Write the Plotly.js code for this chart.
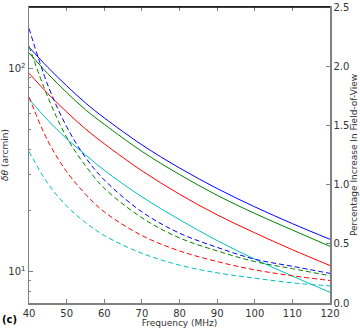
<!DOCTYPE html>
<html>
<head>
<meta charset="utf-8">
<script src="https://cdn.plot.ly/plotly-3.0.1.min.js"></script>
<style>
  html, body { margin: 0; padding: 0; background: #fff; }
  #chart { width: 360px; height: 332px; }
</style>
</head>
<body>
<div id="chart"></div>
<script>
// frequency samples (MHz)
var freq = [40, 45, 50, 55, 60, 70, 80, 90, 100, 110, 120];

// delta theta (arcmin), left log axis - solid lines
var blueSolid  = [127, 101, 82, 67.5, 57, 42, 32.3, 25.6, 20.8, 17.2, 14.4];
var greenSolid = [119, 94, 76, 62.5, 53, 39, 30, 23.7, 19.3, 16, 13.3];
var redSolid   = [94.5, 75, 61, 50.3, 42.5, 31.3, 24, 19, 15.5, 12.8, 10.7];
var cyanSolid  = [70.5, 55.5, 45, 37.5, 31.5, 23.3, 18, 14.2, 11.5, 9.5, 7.9];

// percentage increase in field-of-view, right axis - dashed lines
var blueDash  = [2.32, 1.84, 1.49, 1.23, 1.04, 0.77, 0.59, 0.47, 0.37, 0.31, 0.25];
var greenDash = [2.17, 1.74, 1.40, 1.16, 0.97, 0.72, 0.55, 0.44, 0.35, 0.29, 0.23];
var redDash   = [1.74, 1.37, 1.11, 0.92, 0.77, 0.57, 0.44, 0.35, 0.28, 0.23, 0.19];
var cyanDash  = [1.28, 1.01, 0.82, 0.68, 0.57, 0.42, 0.32, 0.255, 0.21, 0.17, 0.145];

var colors = ['#0000ff', '#008000', '#ff0000', '#00bfbf'];
var solids = [blueSolid, greenSolid, redSolid, cyanSolid];
var dashes = [blueDash, greenDash, redDash, cyanDash];

var data = [];
solids.forEach(function (s, i) {
    data.push({
        x: freq, y: s, type: 'scatter', mode: 'lines', yaxis: 'y',
        line: { color: colors[i], width: 1, shape: 'spline' },
        showlegend: false, hoverinfo: 'skip'
    });
});
dashes.forEach(function (s, i) {
    data.push({
        x: freq, y: s, type: 'scatter', mode: 'lines', yaxis: 'y2',
        line: { color: colors[i], width: 1, dash: '5px,3px', shape: 'spline' },
        showlegend: false, hoverinfo: 'skip'
    });
});

var tickFont = { family: 'DejaVu Sans', size: 10, color: '#333' };
var axisGrey = '#808080';

var layout = {
    width: 360,
    height: 332,
    margin: { l: 29, r: 30, t: 7, b: 28.5 },
    paper_bgcolor: '#fff',
    plot_bgcolor: '#fff',
    font: tickFont,
    xaxis: {
        range: [40, 120],
        tickvals: [40, 50, 60, 70, 80, 90, 100, 110, 120],
        ticks: 'inside', ticklen: 4, tickcolor: axisGrey,
        showline: true, linecolor: axisGrey, linewidth: 1.5, mirror: 'ticks',
        showgrid: false, zeroline: false,
        tickfont: tickFont,
        title: { text: 'Frequency (MHz)', font: { family: 'DejaVu Sans', size: 9, color: '#333' }, standoff: 2 }
    },
    yaxis: {
        type: 'log',
        range: [Math.log10(7), Math.log10(200)],
        tickvals: [10, 100],
        ticktext: ['10<sup>1</sup>', '10<sup>2</sup>'],
        ticks: 'inside', ticklen: 4, tickcolor: axisGrey,
        minor: { tickvals: [7, 8, 9, 20, 30, 40, 50, 60, 70, 80, 90, 200], ticks: 'inside', ticklen: 2, tickcolor: axisGrey },
        showline: true, linecolor: axisGrey, linewidth: 1.5,
        showgrid: false, zeroline: false,
        tickfont: tickFont,
        title: { text: '<i>δθ</i> (arcmin)', font: { family: 'DejaVu Sans', size: 9, color: '#333' }, standoff: 2 }
    },
    yaxis2: {
        overlaying: 'y', side: 'right',
        range: [0, 2.5], dtick: 0.5, tickformat: '.1f',
        ticks: 'inside', ticklen: 4, tickcolor: axisGrey,
        showline: true, linecolor: axisGrey, linewidth: 1.5,
        showgrid: false, zeroline: false,
        tickfont: tickFont,
        title: { text: 'Percentage Increase In Field-of-View', font: { family: 'DejaVu Sans', size: 9, color: '#333' }, standoff: 2 }
    },
    shapes: [{
        type: 'line', xref: 'paper', yref: 'paper',
        x0: 0, x1: 1, y0: 1, y1: 1,
        line: { color: '#000', width: 1.5 }, layer: 'above'
    }],
    annotations: [{
        text: '<b>(c)</b>', xref: 'paper', yref: 'paper',
        x: -0.066, y: -0.055, xanchor: 'center', yanchor: 'middle',
        showarrow: false, font: { family: 'DejaVu Sans', size: 10, color: '#000' }
    }]
};

Plotly.newPlot('chart', data, layout, { displayModeBar: false, staticPlot: true });
</script>
</body>
</html>
